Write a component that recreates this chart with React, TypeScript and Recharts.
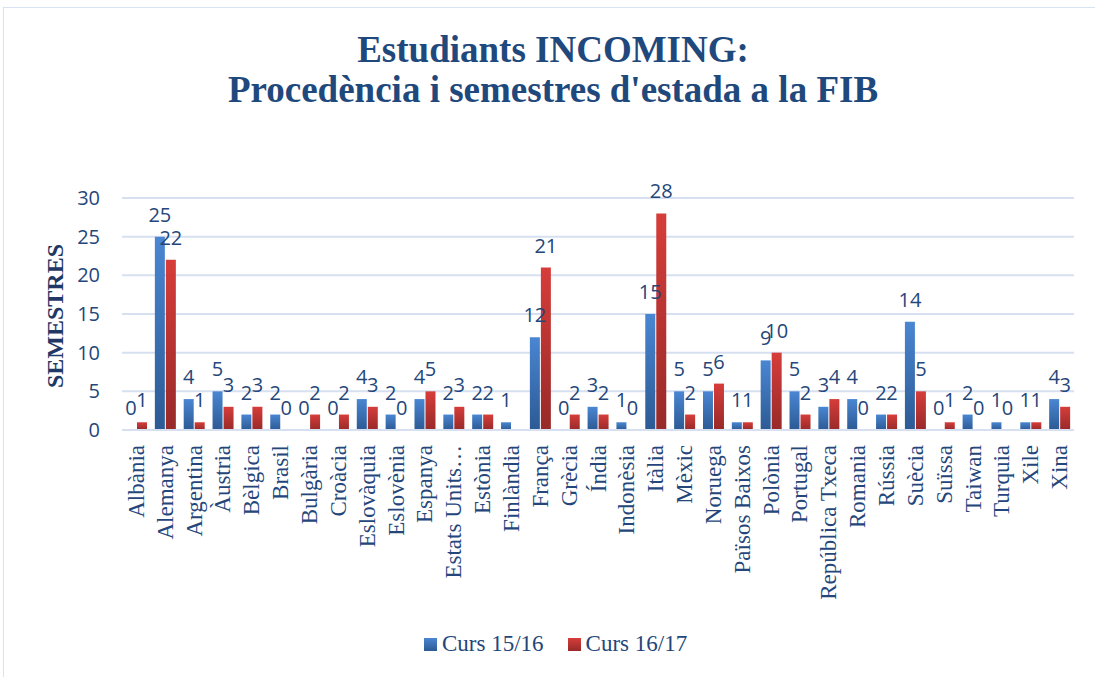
import React from 'react';
import { BarChart, Bar, XAxis, YAxis, CartesianGrid, LabelList } from 'recharts';

const paisos = [
  'Albània', 'Alemanya', 'Argentina', 'Àustria', 'Bèlgica', 'Brasil', 'Bulgària', 'Croàcia',
  'Eslovàquia', 'Eslovènia', 'Espanya', 'Estats Units…', 'Estònia', 'Finlàndia', 'França',
  'Grècia', 'Índia', 'Indonèsia', 'Itàlia', 'Mèxic', 'Noruega', 'Països Baixos', 'Polònia',
  'Portugal', 'República Txeca', 'Romania', 'Rússia', 'Suècia', 'Suïssa', 'Taiwan', 'Turquia',
  'Xile', 'Xina',
];

const curs1516 = [0, 25, 4, 5, 2, 2, 0, 0, 4, 2, 4, 2, 2, 1, 12, 0, 3, 1, 15, 5, 5, 1, 9, 5, 3, 4, 2, 14, 0, 2, 1, 1, 4];
const curs1617 = [1, 22, 1, 3, 3, 0, 2, 2, 3, 0, 5, 3, 2, null, 21, 2, 2, 0, 28, 2, 6, 1, 10, 2, 4, 0, 2, 5, 1, 0, 0, 1, 3];

const yTicks = [0, 5, 10, 15, 20, 25, 30];

const data = paisos.map((pais, i) => ({ pais, c1516: curs1516[i], c1617: curs1617[i] }));

const W = 1095;
const H = 677;
const textBlue = '#24467a';

function CategoryTick({ x, y, payload }: any) {
  return (
    <text
      x={x}
      y={y}
      transform={`rotate(-90, ${x}, ${y})`}
      textAnchor="end"
      dominantBaseline="central"
      fill={textBlue}
      fontFamily="'Liberation Serif', serif"
      fontSize={23}
    >
      {payload.value}
    </text>
  );
}

const fmt = (v: any) => (v === null || v === undefined ? '' : String(v));
// keep zero-valued bars in the layout so their "0" labels still get drawn
const keepZero = (v: any) => (v === 0 ? 0.01 : 0);

export default function App() {
  return (
    <div style={{ position: 'absolute', left: 0, top: 0, width: W, height: H, background: '#fff' }}>
      <div
        style={{
          position: 'absolute', left: 3, top: 7, right: 0, bottom: 0,
          border: '1px solid #d9e2f3', borderRight: 'none', borderBottom: 'none',
        }}
      />
      <div
        style={{
          position: 'absolute', left: 0, top: 30, width: 1106, textAlign: 'center',
          fontFamily: "'Liberation Serif', serif", fontWeight: 'bold', fontSize: 37,
          lineHeight: '40px', color: '#1f497d',
        }}
      >
        Estudiants INCOMING:<br />Procedència i semestres d'estada a la FIB
      </div>
      <div
        style={{
          position: 'absolute', left: 55, top: 316, transform: 'translate(-50%, -50%) rotate(-90deg)',
          fontFamily: "'Liberation Serif', serif", fontWeight: 'bold', fontSize: 24, color: '#1f3864',
          whiteSpace: 'nowrap',
        }}
      >
        SEMESTRES
      </div>
      <BarChart
        width={W}
        height={H}
        data={data}
        margin={{ top: 198, right: 21, bottom: 47, left: 0 }}
        barSize={10}
        barGap={1}
        style={{ position: 'absolute', left: 0, top: 0 }}
      >
        <defs>
          <linearGradient id="gBlue" x1="0" y1="0" x2="0" y2="1">
            <stop offset="0%" stopColor="#4a86d2" />
            <stop offset="100%" stopColor="#2c5a94" />
          </linearGradient>
          <linearGradient id="gRed" x1="0" y1="0" x2="0" y2="1">
            <stop offset="0%" stopColor="#d63d3a" />
            <stop offset="100%" stopColor="#972a29" />
          </linearGradient>
        </defs>
        <CartesianGrid vertical={false} stroke="#d6e0f1" strokeWidth={2} />
        <XAxis
          dataKey="pais"
          interval={0}
          height={200}
          tick={<CategoryTick />}
          tickLine={false}
          tickMargin={9}
          axisLine={{ stroke: '#d6e0f1', strokeWidth: 2 }}
        />
        <YAxis
          domain={[0, 30]}
          ticks={yTicks}
          width={122}
          axisLine={false}
          tickLine={false}
          tickMargin={16}
          tick={{ fill: textBlue, fontSize: 20, fontFamily: "'Open Sans', sans-serif" }}
        />
        <Bar
          dataKey="c1516"
          name="Curs 15/16"
          fill="url(#gBlue)"
          minPointSize={keepZero}
          isAnimationActive={false}
        >
          <LabelList
            dataKey="c1516"
            position="top"
            offset={15}
            formatter={fmt}
            fill={textBlue}
            fontSize={20}
            fontFamily="'Open Sans', sans-serif"
          />
        </Bar>
        <Bar
          dataKey="c1617"
          name="Curs 16/17"
          fill="url(#gRed)"
          minPointSize={keepZero}
          isAnimationActive={false}
        >
          <LabelList
            dataKey="c1617"
            position="top"
            offset={15}
            formatter={fmt}
            fill={textBlue}
            fontSize={20}
            fontFamily="'Open Sans', sans-serif"
          />
        </Bar>
      </BarChart>
      <div
        style={{
          position: 'absolute', left: 424, top: 631, display: 'flex', alignItems: 'center',
          fontFamily: "'Liberation Serif', serif", fontSize: 23, color: textBlue, whiteSpace: 'nowrap',
        }}
      >
        <span style={{ width: 13, height: 13, background: 'linear-gradient(#4a86d2, #2c5a94)', marginRight: 5 }} />
        <span style={{ marginRight: 24 }}>Curs 15/16</span>
        <span style={{ width: 13, height: 13, background: 'linear-gradient(#d63d3a, #972a29)', marginRight: 5 }} />
        <span>Curs 16/17</span>
      </div>
    </div>
  );
}
